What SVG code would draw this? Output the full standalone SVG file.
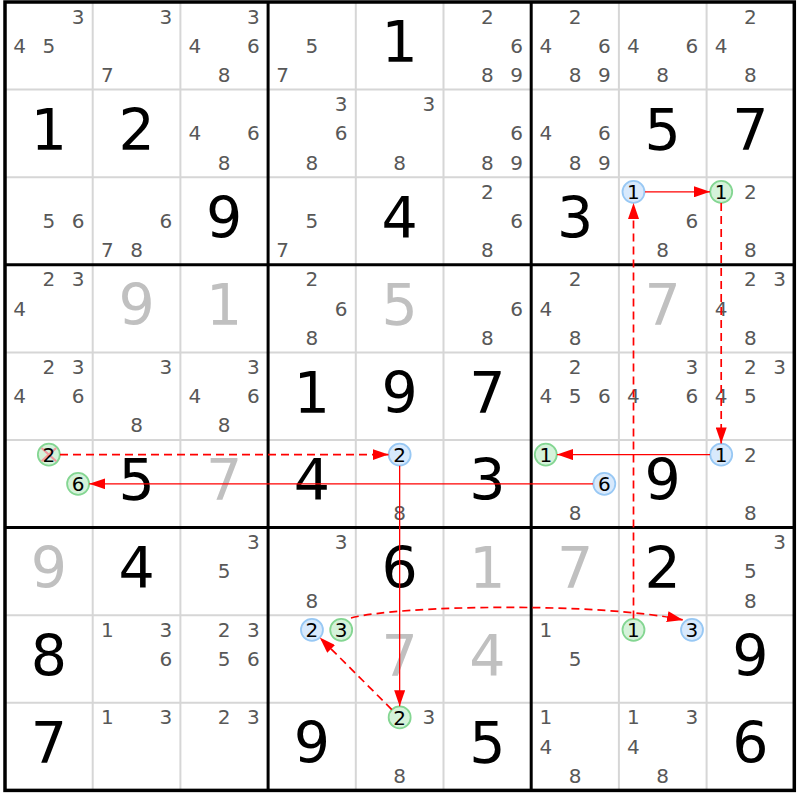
<svg xmlns="http://www.w3.org/2000/svg" width="800" height="800" viewBox="0 0 800 800">
<style>
text{font-family:"DejaVu Sans","Liberation Sans",sans-serif;text-anchor:middle}
.c{font-size:20px;fill:#585858}
.g{font-size:57px;fill:#000}
.s{font-size:57px;fill:#c0c0c0}
.k{font-size:20px;fill:#000}
.bl{fill:#d8e9fc;stroke:#98c8f4;stroke-width:1.8}
.gr{fill:#d5f2da;stroke:#84d692;stroke-width:1.8}
.thin{stroke:#d6d6d6;stroke-width:2}
.thick{stroke:#000;stroke-width:3}
.sol{stroke:#ff0000;stroke-width:1.3;fill:none;marker-end:url(#ah)}
.das{stroke:#ff0000;stroke-width:1.7;fill:none;stroke-dasharray:8 5;marker-end:url(#ah)}
</style>
<defs>
<marker id="ah" viewBox="0 0 16 11" refX="16" refY="5.5" markerWidth="16" markerHeight="11" markerUnits="userSpaceOnUse" orient="auto">
<path d="M0,0 L16,5.5 L0,11 z" fill="#ff0000"/>
</marker>
</defs>
<rect x="0" y="0" width="800" height="800" fill="#fff"/>
<g id="grid">
<g class="thin">
<line x1="92.7" y1="2" x2="92.7" y2="790.4"/>
<line x1="180.4" y1="2" x2="180.4" y2="790.4"/>
<line x1="355.8" y1="2" x2="355.8" y2="790.4"/>
<line x1="443.5" y1="2" x2="443.5" y2="790.4"/>
<line x1="618.9" y1="2" x2="618.9" y2="790.4"/>
<line x1="706.6" y1="2" x2="706.6" y2="790.4"/>
<line x1="5" y1="89.6" x2="794.3" y2="89.6"/>
<line x1="5" y1="177.2" x2="794.3" y2="177.2"/>
<line x1="5" y1="352.4" x2="794.3" y2="352.4"/>
<line x1="5" y1="440" x2="794.3" y2="440"/>
<line x1="5" y1="615.2" x2="794.3" y2="615.2"/>
<line x1="5" y1="702.8" x2="794.3" y2="702.8"/>
</g>
<g class="thick">
<line x1="268.1" y1="2" x2="268.1" y2="790.4"/>
<line x1="531.2" y1="2" x2="531.2" y2="790.4"/>
<line x1="5" y1="264.8" x2="794.3" y2="264.8"/>
<line x1="5" y1="527.6" x2="794.3" y2="527.6"/>
</g>
<rect x="5" y="2" width="789.3" height="788.4" fill="none" stroke="#000" stroke-width="3.5"/>
</g>

<!-- Row 1 -->
<g id="r1c1" transform="translate(5,2)"><text class="c" x="73.1" y="21.6">3</text><text class="c" x="14.6" y="50.8">4</text><text class="c" x="43.85" y="50.8">5</text></g>
<g id="r1c2" transform="translate(92.7,2)"><text class="c" x="73.1" y="21.6">3</text><text class="c" x="14.6" y="80">7</text></g>
<g id="r1c3" transform="translate(180.4,2)"><text class="c" x="73.1" y="21.6">3</text><text class="c" x="14.6" y="50.8">4</text><text class="c" x="73.1" y="50.8">6</text><text class="c" x="43.85" y="80">8</text></g>
<g id="r1c4" transform="translate(268.1,2)"><text class="c" x="43.85" y="50.8">5</text><text class="c" x="14.6" y="80">7</text></g>
<g id="r1c5" transform="translate(355.8,2)"><text class="g" x="43.85" y="60.4">1</text></g>
<g id="r1c6" transform="translate(443.5,2)"><text class="c" x="43.85" y="21.6">2</text><text class="c" x="73.1" y="50.8">6</text><text class="c" x="43.85" y="80">8</text><text class="c" x="73.1" y="80">9</text></g>
<g id="r1c7" transform="translate(531.2,2)"><text class="c" x="43.85" y="21.6">2</text><text class="c" x="14.6" y="50.8">4</text><text class="c" x="73.1" y="50.8">6</text><text class="c" x="43.85" y="80">8</text><text class="c" x="73.1" y="80">9</text></g>
<g id="r1c8" transform="translate(618.9,2)"><text class="c" x="14.6" y="50.8">4</text><text class="c" x="73.1" y="50.8">6</text><text class="c" x="43.85" y="80">8</text></g>
<g id="r1c9" transform="translate(706.6,2)"><text class="c" x="43.85" y="21.6">2</text><text class="c" x="14.6" y="50.8">4</text><text class="c" x="43.85" y="80">8</text></g>

<!-- Row 2 -->
<g id="r2c1" transform="translate(5,89.6)"><text class="g" x="43.85" y="60.4">1</text></g>
<g id="r2c2" transform="translate(92.7,89.6)"><text class="g" x="43.85" y="60.4">2</text></g>
<g id="r2c3" transform="translate(180.4,89.6)"><text class="c" x="14.6" y="50.8">4</text><text class="c" x="73.1" y="50.8">6</text><text class="c" x="43.85" y="80">8</text></g>
<g id="r2c4" transform="translate(268.1,89.6)"><text class="c" x="73.1" y="21.6">3</text><text class="c" x="73.1" y="50.8">6</text><text class="c" x="43.85" y="80">8</text></g>
<g id="r2c5" transform="translate(355.8,89.6)"><text class="c" x="73.1" y="21.6">3</text><text class="c" x="43.85" y="80">8</text></g>
<g id="r2c6" transform="translate(443.5,89.6)"><text class="c" x="73.1" y="50.8">6</text><text class="c" x="43.85" y="80">8</text><text class="c" x="73.1" y="80">9</text></g>
<g id="r2c7" transform="translate(531.2,89.6)"><text class="c" x="14.6" y="50.8">4</text><text class="c" x="73.1" y="50.8">6</text><text class="c" x="43.85" y="80">8</text><text class="c" x="73.1" y="80">9</text></g>
<g id="r2c8" transform="translate(618.9,89.6)"><text class="g" x="43.85" y="60.4">5</text></g>
<g id="r2c9" transform="translate(706.6,89.6)"><text class="g" x="43.85" y="60.4">7</text></g>

<!-- Row 3 -->
<g id="r3c1" transform="translate(5,177.2)"><text class="c" x="43.85" y="50.8">5</text><text class="c" x="73.1" y="50.8">6</text></g>
<g id="r3c2" transform="translate(92.7,177.2)"><text class="c" x="73.1" y="50.8">6</text><text class="c" x="14.6" y="80">7</text><text class="c" x="43.85" y="80">8</text></g>
<g id="r3c3" transform="translate(180.4,177.2)"><text class="g" x="43.85" y="60.4">9</text></g>
<g id="r3c4" transform="translate(268.1,177.2)"><text class="c" x="43.85" y="50.8">5</text><text class="c" x="14.6" y="80">7</text></g>
<g id="r3c5" transform="translate(355.8,177.2)"><text class="g" x="43.85" y="60.4">4</text></g>
<g id="r3c6" transform="translate(443.5,177.2)"><text class="c" x="43.85" y="21.6">2</text><text class="c" x="73.1" y="50.8">6</text><text class="c" x="43.85" y="80">8</text></g>
<g id="r3c7" transform="translate(531.2,177.2)"><text class="g" x="43.85" y="60.4">3</text></g>
<g id="r3c8" transform="translate(618.9,177.2)"><circle class="bl" cx="14.6" cy="14.6" r="11"/><text class="k" x="14.6" y="21.8">1</text><text class="c" x="73.1" y="50.8">6</text><text class="c" x="43.85" y="80">8</text></g>
<g id="r3c9" transform="translate(706.6,177.2)"><circle class="gr" cx="14.6" cy="14.6" r="11"/><text class="k" x="14.6" y="21.8">1</text><text class="c" x="43.85" y="21.6">2</text><text class="c" x="43.85" y="80">8</text></g>

<!-- Row 4 -->
<g id="r4c1" transform="translate(5,264.8)"><text class="c" x="43.85" y="21.6">2</text><text class="c" x="73.1" y="21.6">3</text><text class="c" x="14.6" y="50.8">4</text></g>
<g id="r4c2" transform="translate(92.7,264.8)"><text class="s" x="43.85" y="60.4">9</text></g>
<g id="r4c3" transform="translate(180.4,264.8)"><text class="s" x="43.85" y="60.4">1</text></g>
<g id="r4c4" transform="translate(268.1,264.8)"><text class="c" x="43.85" y="21.6">2</text><text class="c" x="73.1" y="50.8">6</text><text class="c" x="43.85" y="80">8</text></g>
<g id="r4c5" transform="translate(355.8,264.8)"><text class="s" x="43.85" y="60.4">5</text></g>
<g id="r4c6" transform="translate(443.5,264.8)"><text class="c" x="73.1" y="50.8">6</text><text class="c" x="43.85" y="80">8</text></g>
<g id="r4c7" transform="translate(531.2,264.8)"><text class="c" x="43.85" y="21.6">2</text><text class="c" x="14.6" y="50.8">4</text><text class="c" x="43.85" y="80">8</text></g>
<g id="r4c8" transform="translate(618.9,264.8)"><text class="s" x="43.85" y="60.4">7</text></g>
<g id="r4c9" transform="translate(706.6,264.8)"><text class="c" x="43.85" y="21.6">2</text><text class="c" x="73.1" y="21.6">3</text><text class="c" x="14.6" y="50.8">4</text><text class="c" x="43.85" y="80">8</text></g>

<!-- Row 5 -->
<g id="r5c1" transform="translate(5,352.4)"><text class="c" x="43.85" y="21.6">2</text><text class="c" x="73.1" y="21.6">3</text><text class="c" x="14.6" y="50.8">4</text><text class="c" x="73.1" y="50.8">6</text></g>
<g id="r5c2" transform="translate(92.7,352.4)"><text class="c" x="73.1" y="21.6">3</text><text class="c" x="43.85" y="80">8</text></g>
<g id="r5c3" transform="translate(180.4,352.4)"><text class="c" x="73.1" y="21.6">3</text><text class="c" x="14.6" y="50.8">4</text><text class="c" x="73.1" y="50.8">6</text><text class="c" x="43.85" y="80">8</text></g>
<g id="r5c4" transform="translate(268.1,352.4)"><text class="g" x="43.85" y="60.4">1</text></g>
<g id="r5c5" transform="translate(355.8,352.4)"><text class="g" x="43.85" y="60.4">9</text></g>
<g id="r5c6" transform="translate(443.5,352.4)"><text class="g" x="43.85" y="60.4">7</text></g>
<g id="r5c7" transform="translate(531.2,352.4)"><text class="c" x="43.85" y="21.6">2</text><text class="c" x="14.6" y="50.8">4</text><text class="c" x="43.85" y="50.8">5</text><text class="c" x="73.1" y="50.8">6</text></g>
<g id="r5c8" transform="translate(618.9,352.4)"><text class="c" x="73.1" y="21.6">3</text><text class="c" x="14.6" y="50.8">4</text><text class="c" x="73.1" y="50.8">6</text></g>
<g id="r5c9" transform="translate(706.6,352.4)"><text class="c" x="43.85" y="21.6">2</text><text class="c" x="73.1" y="21.6">3</text><text class="c" x="14.6" y="50.8">4</text><text class="c" x="43.85" y="50.8">5</text></g>

<!-- Row 6 -->
<g id="r6c1" transform="translate(5,440)"><circle class="gr" cx="43.85" cy="14.6" r="11"/><path d="M36.5,8 L51.2,21.2 M51.2,8 L36.5,21.2" stroke="#f09aa0" stroke-width="2.2" fill="none"/><text class="k" x="43.85" y="21.8">2</text><circle class="gr" cx="73.1" cy="43.8" r="11"/><text class="k" x="73.1" y="51">6</text></g>
<g id="r6c2" transform="translate(92.7,440)"><text class="g" x="43.85" y="60.4">5</text></g>
<g id="r6c3" transform="translate(180.4,440)"><text class="s" x="43.85" y="60.4">7</text></g>
<g id="r6c4" transform="translate(268.1,440)"><text class="g" x="43.85" y="60.4">4</text></g>
<g id="r6c5" transform="translate(355.8,440)"><circle class="bl" cx="43.85" cy="14.6" r="11"/><text class="k" x="43.85" y="21.8">2</text><text class="c" x="43.85" y="80">8</text></g>
<g id="r6c6" transform="translate(443.5,440)"><text class="g" x="43.85" y="60.4">3</text></g>
<g id="r6c7" transform="translate(531.2,440)"><circle class="gr" cx="14.6" cy="14.6" r="11"/><text class="k" x="14.6" y="21.8">1</text><circle class="bl" cx="73.1" cy="43.8" r="11"/><text class="k" x="73.1" y="51">6</text><text class="c" x="43.85" y="80">8</text></g>
<g id="r6c8" transform="translate(618.9,440)"><text class="g" x="43.85" y="60.4">9</text></g>
<g id="r6c9" transform="translate(706.6,440)"><circle class="bl" cx="14.6" cy="14.6" r="11"/><text class="k" x="14.6" y="21.8">1</text><text class="c" x="43.85" y="21.6">2</text><text class="c" x="43.85" y="80">8</text></g>

<!-- Row 7 -->
<g id="r7c1" transform="translate(5,527.6)"><text class="s" x="43.85" y="60.4">9</text></g>
<g id="r7c2" transform="translate(92.7,527.6)"><text class="g" x="43.85" y="60.4">4</text></g>
<g id="r7c3" transform="translate(180.4,527.6)"><text class="c" x="73.1" y="21.6">3</text><text class="c" x="43.85" y="50.8">5</text></g>
<g id="r7c4" transform="translate(268.1,527.6)"><text class="c" x="73.1" y="21.6">3</text><text class="c" x="43.85" y="80">8</text></g>
<g id="r7c5" transform="translate(355.8,527.6)"><text class="g" x="43.85" y="60.4">6</text></g>
<g id="r7c6" transform="translate(443.5,527.6)"><text class="s" x="43.85" y="60.4">1</text></g>
<g id="r7c7" transform="translate(531.2,527.6)"><text class="s" x="43.85" y="60.4">7</text></g>
<g id="r7c8" transform="translate(618.9,527.6)"><text class="g" x="43.85" y="60.4">2</text></g>
<g id="r7c9" transform="translate(706.6,527.6)"><text class="c" x="73.1" y="21.6">3</text><text class="c" x="43.85" y="50.8">5</text><text class="c" x="43.85" y="80">8</text></g>

<!-- Row 8 -->
<g id="r8c1" transform="translate(5,615.2)"><text class="g" x="43.85" y="60.4">8</text></g>
<g id="r8c2" transform="translate(92.7,615.2)"><text class="c" x="14.6" y="21.6">1</text><text class="c" x="73.1" y="21.6">3</text><text class="c" x="73.1" y="50.8">6</text></g>
<g id="r8c3" transform="translate(180.4,615.2)"><text class="c" x="43.85" y="21.6">2</text><text class="c" x="73.1" y="21.6">3</text><text class="c" x="43.85" y="50.8">5</text><text class="c" x="73.1" y="50.8">6</text></g>
<g id="r8c4" transform="translate(268.1,615.2)"><circle class="bl" cx="43.85" cy="14.6" r="11"/><text class="k" x="43.85" y="21.8">2</text><circle class="gr" cx="73.1" cy="14.6" r="11"/><text class="k" x="73.1" y="21.8">3</text></g>
<g id="r8c5" transform="translate(355.8,615.2)"><text class="s" x="43.85" y="60.4">7</text></g>
<g id="r8c6" transform="translate(443.5,615.2)"><text class="s" x="43.85" y="60.4">4</text></g>
<g id="r8c7" transform="translate(531.2,615.2)"><text class="c" x="14.6" y="21.6">1</text><text class="c" x="43.85" y="50.8">5</text></g>
<g id="r8c8" transform="translate(618.9,615.2)"><circle class="gr" cx="14.6" cy="14.6" r="11"/><text class="k" x="14.6" y="21.8">1</text><circle class="bl" cx="73.1" cy="14.6" r="11"/><text class="k" x="73.1" y="21.8">3</text></g>
<g id="r8c9" transform="translate(706.6,615.2)"><text class="g" x="43.85" y="60.4">9</text></g>

<!-- Row 9 -->
<g id="r9c1" transform="translate(5,702.8)"><text class="g" x="43.85" y="60.4">7</text></g>
<g id="r9c2" transform="translate(92.7,702.8)"><text class="c" x="14.6" y="21.6">1</text><text class="c" x="73.1" y="21.6">3</text></g>
<g id="r9c3" transform="translate(180.4,702.8)"><text class="c" x="43.85" y="21.6">2</text><text class="c" x="73.1" y="21.6">3</text></g>
<g id="r9c4" transform="translate(268.1,702.8)"><text class="g" x="43.85" y="60.4">9</text></g>
<g id="r9c5" transform="translate(355.8,702.8)"><circle class="gr" cx="43.85" cy="14.6" r="11"/><text class="k" x="43.85" y="21.8">2</text><text class="c" x="73.1" y="21.6">3</text><text class="c" x="43.85" y="80">8</text></g>
<g id="r9c6" transform="translate(443.5,702.8)"><text class="g" x="43.85" y="60.4">5</text></g>
<g id="r9c7" transform="translate(531.2,702.8)"><text class="c" x="14.6" y="21.6">1</text><text class="c" x="14.6" y="50.8">4</text><text class="c" x="43.85" y="80">8</text></g>
<g id="r9c8" transform="translate(618.9,702.8)"><text class="c" x="14.6" y="21.6">1</text><text class="c" x="73.1" y="21.6">3</text><text class="c" x="14.6" y="50.8">4</text><text class="c" x="43.85" y="80">8</text></g>
<g id="r9c9" transform="translate(706.6,702.8)"><text class="g" x="43.85" y="60.4">6</text></g>

<g id="connectors">
<line class="sol" x1="645" y1="191.8" x2="710" y2="191.8"/>
<line class="das" x1="721.2" y1="203" x2="721.2" y2="443.4"/>
<line class="sol" x1="710" y1="454.6" x2="557" y2="454.6"/>
<line class="das" x1="633.5" y1="618.6" x2="633.5" y2="203"/>
<line class="sol" x1="593" y1="483.8" x2="89.3" y2="483.8"/>
<line class="das" x1="60" y1="454.6" x2="388.5" y2="454.6"/>
<line class="sol" x1="399.65" y1="465.8" x2="399.65" y2="706.2"/>
<line class="das" x1="391.8" y1="709.6" x2="319.8" y2="637.6"/>
<path class="das" d="M351,618 C400,605 600,602 683,620"/>
</g>
</svg>
